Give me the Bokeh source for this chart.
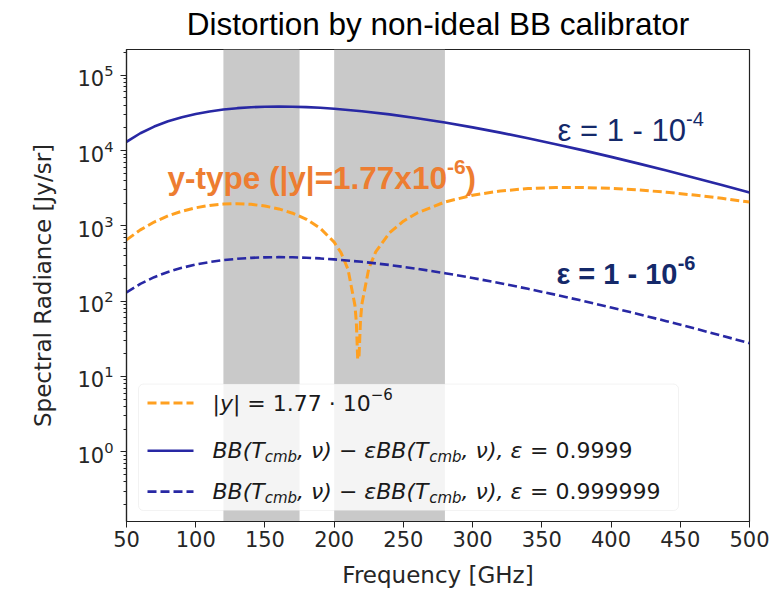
import math
from bokeh.plotting import figure
from bokeh.models import BoxAnnotation, Label, FixedTicker, Range1d
from bokeh.embed import file_html
from bokeh.resources import INLINE

# ---------------- data ----------------
freq_bb = [50, 60, 70, 80, 90, 100, 110, 120, 130, 140, 150, 160, 170, 180, 190, 200,
           220, 240, 260, 280, 300, 320, 340, 360, 380, 400, 420, 440, 460, 480, 500]
bb_eps_1e4 = [13070, 16990, 20840, 24460, 27750, 30640, 33090, 35060, 36580, 37620, 38220,
              38420, 38250, 37750, 36970, 35940, 33350, 30250, 26920, 23560, 20330, 17330,
              14600, 12170, 10060, 8250, 6710, 5430, 4360, 3480, 2770]
bb_eps_1e6 = [130.7, 169.9, 208.4, 244.6, 277.5, 306.4, 330.9, 350.6, 365.8, 376.2, 382.2,
              384.2, 382.5, 377.5, 369.7, 359.4, 333.5, 302.5, 269.2, 235.6, 203.3, 173.3,
              146.0, 121.7, 100.6, 82.5, 67.1, 54.3, 43.6, 34.8, 27.7]
freq_y = [50, 60, 70, 80, 90, 100, 110, 120, 130, 140, 150, 160, 170, 180, 190, 200, 205,
          210, 215, 216, 217, 218, 219, 220, 225, 230, 240, 250, 260, 280, 300, 320, 340,
          360, 380, 400, 420, 440, 460, 480, 500]
y_abs = [652, 885, 1125, 1356, 1565, 1739, 1870, 1948, 1970, 1932, 1834, 1680, 1473, 1221,
         930, 608, 439, 265, 88, 53, 17, 19, 55, 91, 271, 451, 809, 1155, 1486, 2078, 2556,
         2907, 3131, 3234, 3233, 3146, 2999, 2796, 2567, 2322, 2074]
band_start = [120, 200]
band_end = [175, 280]
x_ticks = [50, 100, 150, 200, 250, 300, 350, 400, 450, 500]
y_ticks = [1, 10, 100, 1000, 10000, 100000]
title_text = "Distortion by non-ideal BB calibrator"

X0, X1 = 50, 500
Y0, Y1 = 0.1186, 2.2e5

# frame geometry (pixels) used only to place annotations
FL, FR, FT, FB = 126, 749, 48, 522


def gx(px):
    return X0 + (px - FL) / (FR - FL) * (X1 - X0)


def gy(py):
    l0, l1 = math.log10(Y0), math.log10(Y1)
    return 10 ** (l1 - (py - FT) / (FB - FT) * (l1 - l0))


NAVY = "#2828a4"
ORANGE = "#ffa020"
TXT_NAVY = "#14296a"
TXT_ORANGE = "#ed7d31"

p = figure(width=774, height=590, x_range=Range1d(X0, X1), y_range=Range1d(Y0, Y1),
           y_axis_type="log", output_backend="svg", toolbar_location=None,
           min_border_left=FL, min_border_right=774 - FR, min_border_top=FT,
           min_border_bottom=590 - FB, title=title_text)
p.background_fill_color = "white"
p.border_fill_color = "white"
p.title.text_font = "Liberation Sans"
p.title.text_font_size = "31.5px"
p.title.text_font_style = "normal"
p.title.text_color = "#000000"
p.title.align = "center"
p.title.vertical_align = "top"
p.title.standoff = 11

p.xgrid.grid_line_color = None
p.ygrid.grid_line_color = None
p.outline_line_color = "#222222"
p.outline_line_width = 1.2

p.xaxis.ticker = FixedTicker(ticks=x_ticks)
minor = [k * 10 ** e for e in range(-1, 6) for k in range(2, 10) if Y0 < k * 10 ** e < Y1]
p.yaxis.ticker = FixedTicker(ticks=y_ticks, minor_ticks=minor)

for ax in (p.xaxis, p.yaxis):
    ax.axis_line_color = "#222222"
    ax.axis_line_width = 1.2
    ax.major_tick_line_color = "#222222"
    ax.minor_tick_line_color = "#222222"
    ax.major_tick_in = 0
    ax.major_tick_out = 6
    ax.minor_tick_in = 0
    ax.minor_tick_out = 3
    ax.major_label_text_font = "DejaVu Sans"
    ax.major_label_text_font_size = "21px"
    ax.major_label_text_color = "#262626"
    ax.axis_label_text_font = "DejaVu Sans"
    ax.axis_label_text_font_size = "23px"
    ax.axis_label_text_font_style = "normal"
    ax.axis_label_text_color = "#262626"
p.xaxis.minor_tick_line_color = None
p.xaxis.axis_label = "Frequency [GHz]"
p.yaxis.axis_label = "Spectral Radiance [Jy/sr]"
p.xaxis.major_label_standoff = 3
p.xaxis.axis_label_standoff = 12
p.yaxis.major_label_standoff = 7
p.yaxis.axis_label_standoff = 18

# shaded bands
for a, b in zip(band_start, band_end):
    p.add_layout(BoxAnnotation(left=a, right=b, fill_color="#c9c9c9", fill_alpha=1.0,
                               line_color=None, level="underlay"))

# curves
p.line(freq_y, y_abs, line_color=ORANGE, line_width=3, line_dash="9 4")
p.line(freq_bb, bb_eps_1e4, line_color=NAVY, line_width=2.6)
p.line(freq_bb, bb_eps_1e6, line_color=NAVY, line_width=2.6, line_dash="9 4")

# ---------------- text helpers ----------------
DV = {' ': 318, '(': 390, ')': 390, ',': 318, '.': 318, '=': 838, '\u2212': 838, 'B': 686,
      'T': 611, 'c': 550, 'm': 974, 'b': 635, 'y': 592, '|': 337, '\u00b7': 318,
      '\u03bd': 592, '\u03b5': 541}
AR = {' ': 278, '=': 584, '-': 333, '\u03b5': 450, 'y': 500, 't': 278, 'p': 556, 'e': 556,
      '(': 333, ')': 333, '|': 260, '.': 278, 'x': 500}
ARB = {' ': 278, '=': 584, '-': 333, '\u03b5': 480, 'y': 556, 't': 333, 'p': 611, 'e': 556,
       '(': 333, ')': 333, '|': 280, '.': 278, 'x': 556}


def tw(s, size, table):
    return sum((636 if (table is DV and ch.isdigit()) else 556 if ch.isdigit() else table.get(ch, 560))
               for ch in s) * size / 1000.0


def frags(px, py, parts, font, table, color, baseline, level="annotation"):
    off = 0.0
    for text, size, style, dy in parts:
        lead = len(text) - len(text.lstrip(" "))
        off += tw(" " * lead, size, table)
        body = text.lstrip(" ")
        p.add_layout(Label(x=gx(px), y=gy(py), x_offset=off, y_offset=dy, text=body,
                           text_font=font, text_font_size=f"{size}px", text_font_style=style,
                           text_color=color, text_baseline=baseline, text_align="left",
                           level=level))
        off += tw(body, size, table)


# legend box
p.add_layout(BoxAnnotation(left=gx(138), right=gx(678), top=gy(384), bottom=gy(511),
                           fill_color="white", fill_alpha=0.8, line_color="#d4d4d4",
                           line_width=1, border_radius=5))

# legend samples
for py, col, dash in ((403, ORANGE, "9 4"), (451, NAVY, "solid"), (492, NAVY, "9 4")):
    p.line([gx(147), gx(193)], [gy(py), gy(py)], line_color=col,
           line_width=3 if col == ORANGE else 2.6, line_dash=dash, level="overlay")

LS = 22
SS = 15
LC = "#1a1a1a"
frags(212, 403, [("|", LS, "normal", 0), ("y", LS, "italic", 0),
                 ("| = 1.77 \u00b7 10", LS, "normal", 0), ("\u22126", SS, "normal", 9)],
      "DejaVu Sans", DV, LC, "middle")
for py, eps in ((451, "0.9999"), (492, "0.999999")):
    frags(212, py, [("BB(T", LS, "italic", 0), ("cmb", SS, "italic", -6),
                    (", \u03bd) \u2212 \u03b5BB(T", LS, "italic", 0), ("cmb", SS, "italic", -6),
                    (", \u03bd), \u03b5", LS, "italic", 0), (" = " + eps, LS, "normal", 0)],
          "DejaVu Sans", DV, LC, "middle")

# annotations
frags(557, 129, [("\u03b5 = 1 - 10", 31, "normal", 0), ("-4", 20, "normal", 11)],
      "Liberation Sans", AR, TXT_NAVY, "alphabetic")
frags(556, 273, [("\u03b5 = 1 - 10", 29, "bold", 0), ("-6", 20, "bold", 11)],
      "Liberation Sans", ARB, TXT_NAVY, "alphabetic")
frags(167, 177, [("y-type (|y|=1.77x10", 31.5, "bold", 0), ("-6", 21, "bold", 11),
                 (")", 31.5, "bold", 0)],
      "Liberation Sans", ARB, TXT_ORANGE, "alphabetic")

open("out.html", "w").write(file_html(p, INLINE))
